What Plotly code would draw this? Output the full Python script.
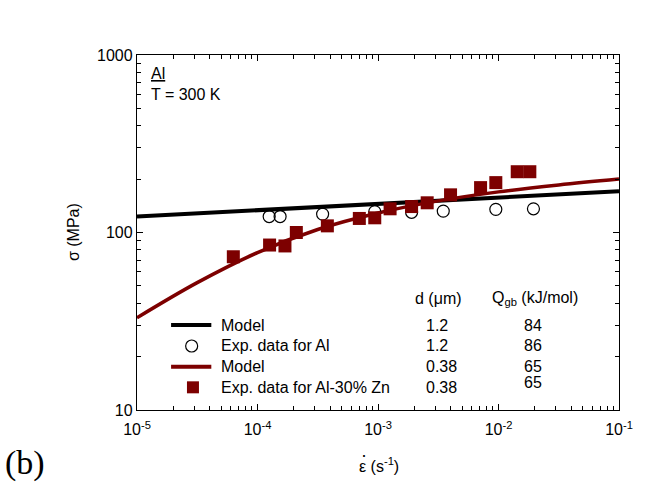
import plotly.graph_objects as go

# ---------------- data ----------------
al_rate = [1.25e-4, 1.54e-4, 3.47e-4, 9.4e-4, 1.90e-3, 3.48e-3, 9.5e-3, 1.95e-2]
al_stress = [123, 123, 127, 131, 130, 132, 135, 136]

alzn_rate = [6.3e-5, 1.26e-4, 1.69e-4, 2.10e-4, 3.80e-4, 7.0e-4, 9.4e-4, 1.26e-3,
             1.90e-3, 2.56e-3, 4.0e-3, 7.1e-3, 9.5e-3, 1.43e-2, 1.82e-2]
alzn_stress = [73, 85, 84, 100, 109, 120, 121, 136, 140, 147, 163, 179, 191, 220, 220]

model_al_rate = [1e-5, 1e-3, 1e-1]
model_al_stress = [123, 145, 171]

model_alzn_rate = [1e-5, 3.16e-5, 1e-4, 3.16e-4, 1e-3, 3.16e-3, 1e-2, 3.16e-2, 1e-1]
model_alzn_stress = [33.1, 52.2, 77.1, 104, 128.8, 150.7, 169.4, 185.4, 200]

x_tickvals = [1e-5, 1e-4, 1e-3, 1e-2, 1e-1]
x_ticktext = ["10<sup>-5</sup>", "10<sup>-4</sup>", "10<sup>-3</sup>", "10<sup>-2</sup>", "10<sup>-1</sup>"]
y_tickvals = [10, 100, 1000]
y_ticktext = ["10", "100", "1000"]

legend_labels = ["Model", "Exp. data for Al", "Model", "Exp. data for Al-30% Zn"]
legend_d = ["1.2", "1.2", "0.38", "0.38"]
legend_q = ["84", "86", "65", "65"]

# ---------------- styles ----------------
RED = "#7d0000"
FONT = "Liberation Sans, Arial, sans-serif"

fig = go.Figure()

fig.add_trace(go.Scatter(x=model_al_rate, y=model_al_stress, mode="lines",
                         line=dict(color="black", width=4), showlegend=False))
fig.add_trace(go.Scatter(x=model_alzn_rate, y=model_alzn_stress, mode="lines",
                         line=dict(color=RED, width=3.5, shape="spline", smoothing=1.0),
                         showlegend=False))
fig.add_trace(go.Scatter(x=al_rate, y=al_stress, mode="markers",
                         marker=dict(symbol="circle-open", size=12, color="black",
                                     line=dict(width=1.2, color="black")),
                         showlegend=False))
fig.add_trace(go.Scatter(x=alzn_rate, y=alzn_stress, mode="markers",
                         marker=dict(symbol="square", size=13, color=RED),
                         showlegend=False))

# ---------------- hand-made legend on an overlay [0,1] axis ----------------
row_y = [0.2394, 0.1803, 0.122, 0.0639]
fig.add_trace(go.Scatter(x=[0.0707, 0.1542], y=[row_y[0]] * 2, mode="lines",
                         line=dict(color="black", width=4), xaxis="x2", yaxis="y2",
                         showlegend=False))
fig.add_trace(go.Scatter(x=[0.1134], y=[row_y[1]], mode="markers",
                         marker=dict(symbol="circle-open", size=12, color="black",
                                     line=dict(width=1.2, color="black")),
                         xaxis="x2", yaxis="y2", showlegend=False))
fig.add_trace(go.Scatter(x=[0.0707, 0.1542], y=[row_y[2]] * 2, mode="lines",
                         line=dict(color=RED, width=4), xaxis="x2", yaxis="y2",
                         showlegend=False))
fig.add_trace(go.Scatter(x=[0.1161], y=[row_y[3]], mode="markers",
                         marker=dict(symbol="square", size=12, color=RED),
                         xaxis="x2", yaxis="y2", showlegend=False))

ann = []
tf = dict(family=FONT, size=16, color="black")
for i in range(4):
    ann.append(dict(x=0.171, y=row_y[i], xref="paper", yref="paper", text=legend_labels[i],
                    showarrow=False, xanchor="left", yanchor="middle", font=tf))
    ann.append(dict(x=0.595, y=row_y[i], xref="paper", yref="paper", text=legend_d[i],
                    showarrow=False, xanchor="left", yanchor="middle", font=tf))
    qy = row_y[i] + (0.013 if i == 3 else 0)
    ann.append(dict(x=0.822, y=qy, xref="paper", yref="paper", text=legend_q[i],
                    showarrow=False, xanchor="center", yanchor="middle", font=tf))
ann.append(dict(x=0.625, y=0.3146, xref="paper", yref="paper", text="d (μm)",
                showarrow=False, xanchor="center", yanchor="middle", font=tf))
ann.append(dict(x=0.826, y=0.3146, xref="paper", yref="paper", text="Q<sub>gb</sub> (kJ/mol)",
                showarrow=False, xanchor="center", yanchor="middle", font=tf))
# material / temperature label
ann.append(dict(x=0.024, y=0.948, xref="paper", yref="paper", text="<u>Al</u>",
                showarrow=False, xanchor="left", yanchor="middle", font=tf))
ann.append(dict(x=0.024, y=0.890, xref="paper", yref="paper", text="T = 300 K",
                showarrow=False, xanchor="left", yanchor="middle", font=tf))
# axis titles (epsilon with a separate over-dot)
ann.append(dict(x=0.456, y=-0.155, xref="paper", yref="paper", text="ε (s<sup>-1</sup>)",
                showarrow=False, xanchor="left", yanchor="middle", font=tf))
ann.append(dict(x=0.4715, y=-0.128, xref="paper", yref="paper", text="·",
                showarrow=False, xanchor="center", yanchor="middle",
                font=dict(family=FONT, size=18, color="black")))
ann.append(dict(x=-0.133, y=0.501, xref="paper", yref="paper", text="σ (MPa)",
                showarrow=False, xanchor="center", yanchor="middle", textangle=-90, font=tf))
# panel label
ann.append(dict(x=-0.277, y=-0.148, xref="paper", yref="paper", text="(b)",
                showarrow=False, xanchor="left", yanchor="middle",
                font=dict(family="Liberation Serif, Times New Roman, serif", size=34, color="black")))

x_minor = [m * 10 ** e for e in range(-5, -1) for m in range(2, 10)]
y_minor = [m * 10 ** e for e in range(1, 3) for m in range(2, 10)]

axis_common = dict(showline=True, linecolor="black", linewidth=1.3, mirror="allticks",
                   ticks="inside", ticklen=6, tickwidth=1.2, tickcolor="black",
                   showgrid=False, zeroline=False,
                   tickfont=dict(family=FONT, size=16, color="black"))

fig.update_layout(
    width=645, height=483,
    margin=dict(l=137, r=17, t=55, b=73),
    paper_bgcolor="white", plot_bgcolor="white",
    showlegend=False,
    annotations=ann,
    xaxis=dict(type="log", range=[-5, -1], tickmode="array", tickvals=x_tickvals,
               ticktext=x_ticktext, ticklabelstandoff=5,
               minor=dict(tickmode="array", tickvals=x_minor, ticks="inside", ticklen=4,
                          tickwidth=1, tickcolor="black", showgrid=False),
               **axis_common),
    yaxis=dict(type="log", range=[1, 3], tickmode="array", tickvals=y_tickvals,
               ticktext=y_ticktext,
               minor=dict(tickmode="array", tickvals=y_minor, ticks="inside", ticklen=4,
                          tickwidth=1, tickcolor="black", showgrid=False),
               **axis_common),
    xaxis2=dict(overlaying="x", range=[0, 1], visible=False, fixedrange=True),
    yaxis2=dict(overlaying="y", range=[0, 1], visible=False, fixedrange=True),
)

fig.write_html("out.html")
